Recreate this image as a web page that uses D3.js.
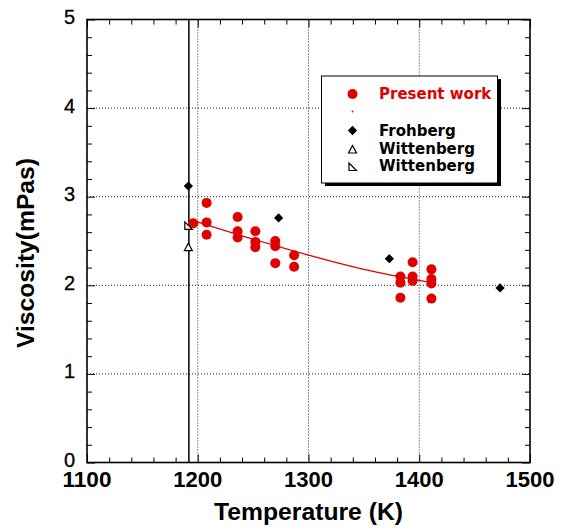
<!DOCTYPE html>
<html>
<head>
<meta charset="utf-8">
<script src="https://cdn.jsdelivr.net/npm/d3@7"></script>
<style>
  body { margin: 0; background: #fff; }
</style>
</head>
<body>
<div id="chart"></div>
<script>
// data
const presentT = [1196, 1208, 1208, 1208, 1236, 1236, 1236, 1252, 1252, 1252, 1270, 1270, 1270, 1287, 1287,
                  1383, 1383, 1383, 1394, 1394, 1394, 1411, 1411, 1411, 1411];
const presentV = [2.70, 2.93, 2.71, 2.57, 2.77, 2.61, 2.54, 2.61, 2.49, 2.43, 2.50, 2.44, 2.25, 2.34, 2.21,
                  2.10, 2.03, 1.86, 2.26, 2.10, 2.05, 2.18, 2.07, 2.02, 1.85];
const fitT = [1196, 1250, 1300, 1350, 1411];
const fitV = [2.73, 2.52, 2.34, 2.18, 2.03];
const frohT = [1191.5, 1273, 1373, 1473];
const frohV = [3.12, 2.76, 2.30, 1.97];
const witt1T = [1191.5];
const witt1V = [2.43];
const witt2T = [1191.5];
const witt2V = [2.67];
const meltT = 1192;
const xTicks = [1100, 1200, 1300, 1400, 1500];
const yTicks = [0, 1, 2, 3, 4, 5];

const width = 561, height = 531;
const margin = {top: 19.5, right: 31, bottom: 68.5, left: 87};
const red = "#e00000";

const svg = d3.select("#chart").append("svg")
    .attr("width", width)
    .attr("height", height);

const x = d3.scaleLinear().domain([1100, 1500]).range([margin.left, width - margin.right]);
const y = d3.scaleLinear().domain([0, 5]).range([height - margin.bottom, margin.top]);

// dotted grid
svg.append("g").selectAll("line").data([1200, 1300, 1400]).enter().append("line")
    .attr("x1", d => x(d)).attr("x2", d => x(d))
    .attr("y1", y(0)).attr("y2", y(5))
    .attr("stroke", "#222").attr("stroke-width", 1).attr("stroke-dasharray", "1,2");
svg.append("g").selectAll("line").data([1, 2, 3, 4]).enter().append("line")
    .attr("y1", d => y(d)).attr("y2", d => y(d))
    .attr("x1", x(1100)).attr("x2", x(1500))
    .attr("stroke", "#222").attr("stroke-width", 1).attr("stroke-dasharray", "1,2");

// inward ticks on all four sides
const xMinor = d3.range(1120, 1500, 20).filter(d => d % 100 !== 0);
const yMinor = d3.range(0.2, 5, 0.2).filter(d => Math.abs(d - Math.round(d)) > 0.01);
function ticks(axisFn, scale, vals, len, transform) {
    svg.append("g")
        .attr("transform", transform)
        .call(axisFn(scale).tickValues(vals).tickSize(len).tickFormat(""))
        .call(g => g.select(".domain").remove())
        .selectAll("line").attr("stroke", "#000").attr("stroke-width", 1);
}
ticks(d3.axisTop, x, xMinor, 5, `translate(0,${y(0)})`);
ticks(d3.axisTop, x, xTicks, 8, `translate(0,${y(0)})`);
ticks(d3.axisBottom, x, xMinor, 5, `translate(0,${y(5)})`);
ticks(d3.axisBottom, x, xTicks, 8, `translate(0,${y(5)})`);
ticks(d3.axisRight, y, yMinor, 5, `translate(${x(1100)},0)`);
ticks(d3.axisRight, y, yTicks, 8, `translate(${x(1100)},0)`);
ticks(d3.axisLeft, y, yMinor, 5, `translate(${x(1500)},0)`);
ticks(d3.axisLeft, y, yTicks, 8, `translate(${x(1500)},0)`);

// frame
svg.append("rect")
    .attr("x", x(1100)).attr("y", y(5))
    .attr("width", x(1500) - x(1100)).attr("height", y(0) - y(5))
    .attr("fill", "none").attr("stroke", "#000").attr("stroke-width", 1.6);

// tick labels
svg.append("g").selectAll("text").data(xTicks).enter().append("text")
    .attr("x", d => x(d)).attr("y", y(0) + 24)
    .attr("text-anchor", "middle")
    .attr("font-family", "Liberation Sans, Arial, sans-serif")
    .attr("font-weight", "bold").attr("font-size", 22)
    .attr("textLength", 49).attr("lengthAdjust", "spacingAndGlyphs")
    .text(d => d);
svg.append("g").selectAll("text").data(yTicks).enter().append("text")
    .attr("x", 75).attr("y", d => y(d) + 4.5)
    .attr("text-anchor", "end")
    .attr("font-family", "Liberation Sans, Arial, sans-serif")
    .attr("font-size", 20)
    .attr("stroke", "#000").attr("stroke-width", 0.3)
    .text(d => d);

// axis titles
svg.append("text")
    .attr("x", (x(1100) + x(1500)) / 2).attr("y", 520)
    .attr("text-anchor", "middle")
    .attr("font-family", "Liberation Sans, Arial, sans-serif")
    .attr("font-weight", "bold").attr("font-size", 23)
    .attr("textLength", 189).attr("lengthAdjust", "spacingAndGlyphs")
    .text("Temperature (K)");
svg.append("text")
    .attr("transform", `translate(34,253) rotate(-90)`)
    .attr("text-anchor", "middle")
    .attr("font-family", "Liberation Sans, Arial, sans-serif")
    .attr("font-weight", "bold").attr("font-size", 23)
    .attr("textLength", 190).attr("lengthAdjust", "spacingAndGlyphs")
    .text("Viscosity(mPas)");

// melting point line
svg.append("line")
    .attr("x1", x(meltT)).attr("x2", x(meltT))
    .attr("y1", y(0)).attr("y2", y(5))
    .attr("stroke", "#000").attr("stroke-width", 1.5);

// fit line
svg.append("path")
    .datum(fitT.map((t, i) => [t, fitV[i]]))
    .attr("d", d3.line().x(d => x(d[0])).y(d => y(d[1])).curve(d3.curveMonotoneX))
    .attr("fill", "none").attr("stroke", red).attr("stroke-width", 1.2);

// present work points
svg.append("g").selectAll("circle").data(presentT.map((t, i) => [t, presentV[i]])).enter()
    .append("circle")
    .attr("cx", d => x(d[0])).attr("cy", d => y(d[1]))
    .attr("r", 5).attr("fill", red);

// Frohberg diamonds
const diamond = d3.symbol().type(d3.symbolDiamond2).size(55);
svg.append("g").selectAll("path").data(frohT.map((t, i) => [t, frohV[i]])).enter()
    .append("path")
    .attr("transform", d => `translate(${x(d[0])},${y(d[1])})`)
    .attr("d", diamond).attr("fill", "#000");

// Wittenberg markers
const tri = "M0,-4L4,3.5L-4,3.5Z";
const rtri = "M-3.5,-4L-3.5,3.5L4,3.5Z";
svg.append("g").selectAll("path").data(witt1T.map((t, i) => [t, witt1V[i]])).enter()
    .append("path")
    .attr("transform", d => `translate(${x(d[0])},${y(d[1])})`)
    .attr("d", tri).attr("fill", "#fff").attr("stroke", "#000").attr("stroke-width", 1.2);
svg.append("g").selectAll("path").data(witt2T.map((t, i) => [t, witt2V[i]])).enter()
    .append("path")
    .attr("transform", d => `translate(${x(d[0])},${y(d[1])})`)
    .attr("d", rtri).attr("fill", "#fff").attr("stroke", "#000").attr("stroke-width", 1.2);

// legend
const lg = svg.append("g");
lg.append("rect").attr("x", 325).attr("y", 79).attr("width", 176).attr("height", 107).attr("fill", "#000");
lg.append("rect").attr("x", 321.5).attr("y", 76).attr("width", 176).attr("height", 107)
    .attr("fill", "#fff").attr("stroke", "#000").attr("stroke-width", 1);
const lx = 352.5, tx = 379;
lg.append("circle").attr("cx", lx).attr("cy", 94).attr("r", 5).attr("fill", red);
lg.append("circle").attr("cx", lx).attr("cy", 111.5).attr("r", 0.9).attr("fill", red);
lg.append("path").attr("transform", `translate(${lx},130.5)`).attr("d", diamond).attr("fill", "#000");
lg.append("path").attr("transform", `translate(${lx},149.5)`).attr("d", tri)
    .attr("fill", "#fff").attr("stroke", "#000").attr("stroke-width", 1.2);
lg.append("path").attr("transform", `translate(${lx},167)`).attr("d", rtri)
    .attr("fill", "#fff").attr("stroke", "#000").attr("stroke-width", 1.2);
const legendText = [["Present work", 98.5, red], ["Frohberg", 135.5, "#000"], ["Wittenberg", 153.5, "#000"], ["Wittenberg", 171, "#000"]];
lg.selectAll("text").data(legendText).enter().append("text")
    .attr("x", tx).attr("y", d => d[1])
    .attr("font-family", "DejaVu Sans, Verdana, sans-serif")
    .attr("font-weight", "bold").attr("font-size", 15)
    .attr("fill", d => d[2])
    .text(d => d[0]);
</script>
</body>
</html>
